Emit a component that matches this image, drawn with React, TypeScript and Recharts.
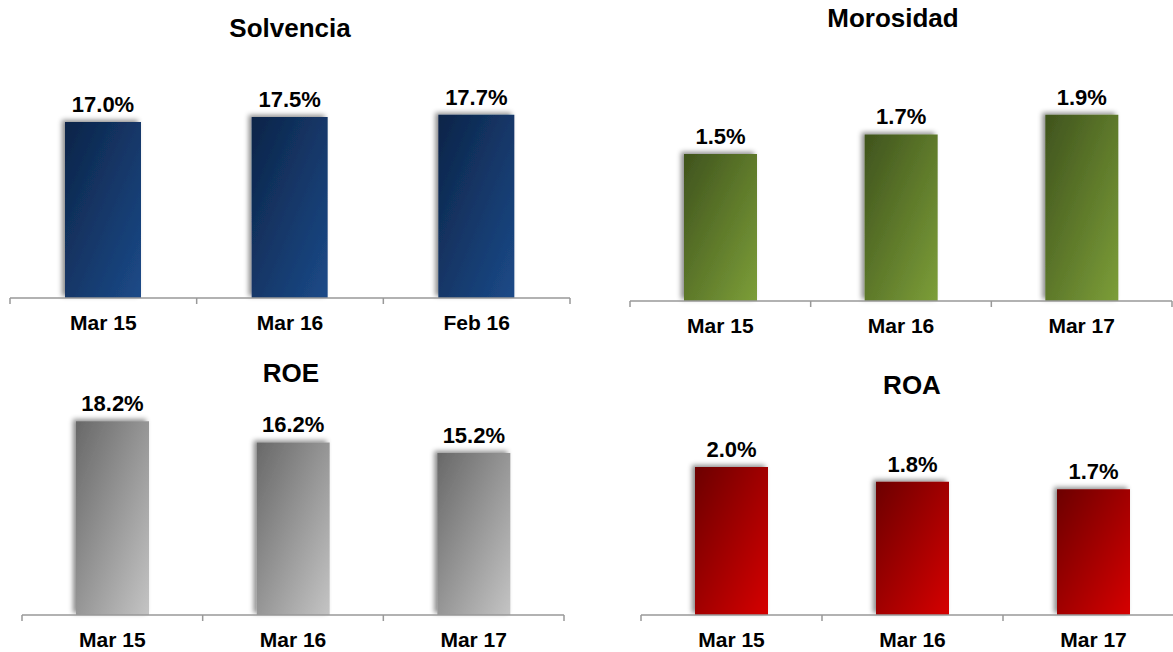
import React from 'react';
import { BarChart, Bar, XAxis, YAxis, LabelList } from 'recharts';

// categories + values
const solvenciaCats = ['Mar 15', 'Mar 16', 'Feb 16'];
const solvenciaVals = [17.0, 17.5, 17.7];

const morosidadCats = ['Mar 15', 'Mar 16', 'Mar 17'];
const morosidadVals = [1.5, 1.7, 1.9];

const roeCats = ['Mar 15', 'Mar 16', 'Mar 17'];
const roeVals = [18.2, 16.2, 15.2];

const roaCats = ['Mar 15', 'Mar 16', 'Mar 17'];
const roaVals = [2.0, 1.8, 1.7];

const FONT = '"Liberation Sans", Arial, sans-serif';
const TICK_MARGIN = 17;
const XAXIS_H = 30;

interface PanelProps {
  id: string
  title: string
  cats: string[]
  vals: number[]
  domain: [number, number]
  colors: [string, string]
  left: number
  top: number
  width: number
  height: number
  margin: { left: number; right: number; top: number; bottom: number }
  barSize: number
  titleX: number
  titleY: number
}

function Panel(p: PanelProps) {
  const data = p.cats.map((c, i) => ({ name: c, value: p.vals[i] }));
  const plotW = p.width - p.margin.left - p.margin.right;
  const band = plotW / p.cats.length;
  const last = p.cats.length - 1;

  // tick marks sit on the category boundaries, label in the middle
  const renderTick = (t: any) => {
    const axisY = t.y - TICK_MARGIN;
    return (
      <g>
        <line x1={t.x - band / 2} x2={t.x - band / 2} y1={axisY} y2={axisY + 6} stroke="#999" strokeWidth={1.5} />
        {t.index === last && (
          <line x1={t.x + band / 2} x2={t.x + band / 2} y1={axisY} y2={axisY + 6} stroke="#999" strokeWidth={1.5} />
        )}
        <text x={t.x} y={t.y} dy="0.71em" textAnchor="middle" fontSize={21} fontWeight={700} fill="#000" fontFamily={FONT}>
          {t.payload.value}
        </text>
      </g>
    );
  };

  return (
    <>
      <div
        style={{
          position: 'absolute',
          left: p.titleX - 150,
          top: p.titleY,
          width: 300,
          textAlign: 'center',
          fontFamily: FONT,
          fontWeight: 700,
          fontSize: 26,
          lineHeight: '26px',
          color: '#000',
        }}
      >
        {p.title}
      </div>
      <div style={{ position: 'absolute', left: p.left, top: p.top }}>
        <BarChart width={p.width} height={p.height} data={data} margin={p.margin}>
          <defs>
            <linearGradient id={`grad-${p.id}`} x1="0" y1="0" x2="1" y2="1">
              <stop offset="0%" stopColor={p.colors[0]} />
              <stop offset="100%" stopColor={p.colors[1]} />
            </linearGradient>
            <filter id={`shadow-${p.id}`} x="-30%" y="-10%" width="150%" height="120%">
              <feDropShadow dx={-3} dy={-2} stdDeviation={2.5} floodColor="#000" floodOpacity={0.45} />
            </filter>
          </defs>
          <YAxis hide domain={p.domain} />
          <XAxis
            dataKey="name"
            height={XAXIS_H}
            axisLine={{ stroke: '#999', strokeWidth: 1.5 }}
            tickLine={false}
            tickSize={0}
            tickMargin={TICK_MARGIN}
            interval={0}
            tick={renderTick}
          />
          <Bar
            dataKey="value"
            fill={`url(#grad-${p.id})`}
            filter={`url(#shadow-${p.id})`}
            barSize={p.barSize}
            isAnimationActive={false}
          >
            <LabelList
              dataKey="value"
              position="top"
              offset={10}
              formatter={(v: any) => `${Number(v).toFixed(1)}%`}
              style={{ fontSize: 22, fontWeight: 700, fill: '#000', fontFamily: FONT }}
            />
          </Bar>
        </BarChart>
      </div>
    </>
  );
}

export default function App() {
  return (
    <div
      style={{
        position: 'fixed',
        left: 0,
        top: 0,
        width: 1173,
        height: 652,
        background: '#fff',
        overflow: 'hidden',
      }}
    >
      <Panel
        id="solv"
        title="Solvencia"
        cats={solvenciaCats}
        vals={solvenciaVals}
        domain={[0, 20]}
        colors={['#0c2448', '#1c4a88']}
        left={0}
        top={0}
        width={580}
        height={340}
        margin={{ left: 10, right: 10, top: 91, bottom: 12 }}
        barSize={76}
        titleX={290}
        titleY={15}
      />
      <Panel
        id="moro"
        title="Morosidad"
        cats={morosidadCats}
        vals={morosidadVals}
        domain={[0, 2]}
        colors={['#3f531d', '#7c9e38']}
        left={620}
        top={0}
        width={562}
        height={342}
        margin={{ left: 10, right: 10, top: 105, bottom: 11 }}
        barSize={73}
        titleX={893}
        titleY={5}
      />
      <Panel
        id="roe"
        title="ROE"
        cats={roeCats}
        vals={roeVals}
        domain={[0, 20]}
        colors={['#686868', '#c4c4c4']}
        left={12}
        top={340}
        width={562}
        height={312}
        margin={{ left: 10, right: 10, top: 62, bottom: 7 }}
        barSize={73}
        titleX={291}
        titleY={360}
      />
      <Panel
        id="roa"
        title="ROA"
        cats={roaCats}
        vals={roaVals}
        domain={[0, 2.5]}
        colors={['#6c0000', '#d60000']}
        left={631}
        top={340}
        width={563}
        height={312}
        margin={{ left: 10, right: 10, top: 90, bottom: 7 }}
        barSize={73}
        titleX={912}
        titleY={372}
      />
    </div>
  );
}
